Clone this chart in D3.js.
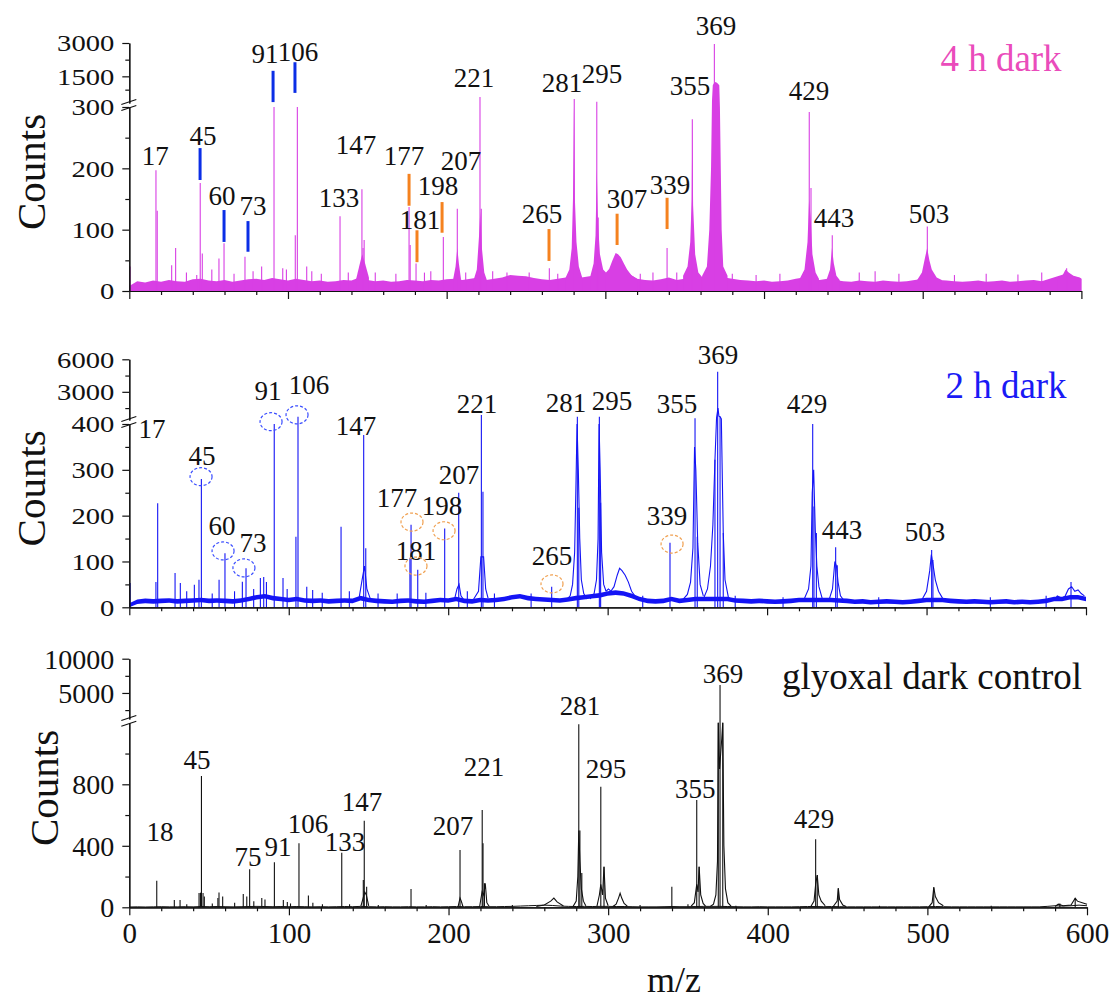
<!DOCTYPE html>
<html lang="en">
<head>
<meta charset="UTF-8">
<script src="https://d3js.org/d3.v7.min.js"></script>
<title>Mass spectra</title>
<style>
  body { margin: 0; background: #fff; }
  text { font-family: "Liberation Serif", "Times New Roman", serif; }
</style>
</head>
<body>
<div id="app"></div>
<script>
const svg_width = 1112;
const svg_height = 1001;

// x axis (m/z)
const mz_major = [0, 100, 200, 300, 400, 500, 600];
const mz_minor = d3.range(20, 600, 20).filter(v => v % 100 !== 0);

// baseline noise levels, one value every 5 m/z from 0 to 600
const base_step = 5;
const base1 = [
  8, 16, 14, 17, 15, 18, 16, 15, 19, 20,
  17, 16, 18, 15, 17, 19, 20, 18, 21, 19,
  17, 20, 18, 16, 17, 15, 16, 18, 17, 22,
  18, 16, 17, 15, 16, 18, 17, 16, 18, 17,
  19, 20, 18, 20, 22, 18, 20, 22, 26, 25,
  24, 21, 19, 18, 20, 22, 24, 22, 24, 26,
  28, 30, 32, 28, 20, 18, 17, 19, 22, 18,
  20, 22, 24, 22, 24, 22, 20, 18, 17, 16,
  17, 15, 16, 17, 20, 22, 20, 18, 20, 18,
  16, 15, 17, 16, 15, 17, 16, 15, 16, 18,
  20, 20, 18, 17, 16, 15, 16, 17, 15, 16,
  17, 15, 16, 17, 18, 16, 20, 24, 28, 24,
  20]
const base2 = [
  4, 12, 14, 13, 14, 15, 13, 14, 15, 16,
  14, 15, 14, 13, 15, 18, 22, 24, 20, 18,
  16, 18, 15, 14, 15, 13, 14, 15, 14, 20,
  16, 14, 13, 12, 14, 15, 13, 12, 14, 16,
  15, 18, 14, 13, 16, 15, 16, 18, 22, 24,
  20, 18, 17, 16, 15, 17, 20, 22, 24, 26,
  30, 32, 30, 25, 18, 14, 13, 14, 18, 14,
  16, 18, 18, 18, 18, 18, 15, 14, 13, 14,
  13, 12, 13, 14, 16, 16, 16, 16, 16, 15,
  14, 12, 13, 11, 12, 13, 12, 11, 12, 14,
  16, 16, 16, 14, 13, 12, 13, 12, 11, 12,
  13, 11, 12, 11, 12, 14, 18, 18, 22, 22,
  18]
const base3 = [
  2, 3, 2, 3, 4, 3, 3, 4, 3, 5,
  4, 5, 4, 3, 4, 5, 6, 5, 4, 5,
  4, 5, 4, 3, 4, 3, 4, 5, 4, 6,
  4, 3, 4, 3, 3, 4, 3, 3, 4, 3,
  4, 5, 4, 4, 5, 4, 4, 5, 6, 8,
  10, 12, 14, 12, 8, 6, 5, 6, 5, 6,
  6, 5, 5, 4, 3, 3, 3, 4, 5, 4,
  4, 5, 6, 6, 6, 5, 4, 3, 3, 4,
  3, 3, 3, 3, 4, 5, 5, 4, 5, 4,
  3, 3, 3, 3, 3, 3, 3, 3, 3, 3,
  4, 5, 4, 3, 3, 3, 3, 3, 3, 3,
  3, 3, 3, 3, 3, 6, 10, 8, 10, 14,
  10]

// narrow peaks [m/z, counts]
const sticks1 = [
  [0.5, 40], [16.8, 197], [17.6, 131], [26.7, 42], [29.2, 70], [36, 30], [42.5, 26],
  [44.7, 176], [46, 61], [52, 35], [56.5, 53], [59.7, 78], [66, 28], [72.9, 56],
  [78, 32], [83.4, 40], [91.2, 300], [96.7, 37], [99, 35], [104.6, 91], [105.9, 300],
  [111.8, 40], [115, 32], [121, 28], [132.8, 122], [138, 30], [146.6, 166], [147.3, 70],
  [148, 83], [155, 30], [168, 28], [176.3, 137], [177, 75], [180.7, 45], [186, 30],
  [190, 32], [197.9, 88], [206.7, 134], [212, 30], [221, 570], [221.8, 134], [229, 32],
  [238, 30], [252, 30], [264.7, 37], [270, 28], [280.4, 480], [294.6, 360], [295.5, 120],
  [322, 28], [330, 30], [338.9, 70], [345, 30], [354.8, 280], [368.7, 2955], [380, 28],
  [395, 26], [410, 28], [428.5, 292], [429.6, 168], [443, 91], [460, 30], [470, 32],
  [485, 28], [502.9, 105], [520, 26], [540, 28], [560, 27], [575, 30], [590.7, 37]]
const sticks2 = [
  [0.5, 53], [16.7, 55], [17.8, 227], [28.7, 75], [32, 53], [36, 35], [40.8, 49],
  [43.7, 60], [45.2, 280], [52, 30], [56.3, 60], [60, 118], [66, 35], [70.9, 56],
  [73.2, 85], [78, 40], [82.2, 64], [84.3, 66], [86, 55], [90.9, 400], [96.4, 64],
  [99, 40], [104.5, 154], [105.8, 700], [111.3, 45], [115, 38], [121, 32], [132.8, 176],
  [138, 35], [147, 376], [148.3, 129], [156, 30], [168, 30], [176, 108], [176.7, 180],
  [180.9, 82], [186, 32], [197.8, 172], [206.6, 250], [212, 35], [220.8, 860],
  [221.8, 252], [229, 30], [252, 30], [264.9, 45], [281, 700], [281.9, 217],
  [294.8, 700], [295.6, 228], [322, 25], [339.1, 141], [354.8, 556], [356.2, 154],
  [367.3, 322], [369, 4844], [370.5, 700], [372.5, 162], [380, 25], [410, 22],
  [428.6, 400], [429.4, 220], [430.9, 162], [443, 131], [444, 92], [470, 22],
  [503.2, 125], [504, 103], [540, 22], [575, 25], [590.6, 55]]
const sticks3 = [
  [17.2, 173], [28.2, 47], [31.8, 47], [36, 20], [43.7, 93], [44.6, 95], [45.2, 854],
  [46.2, 93], [47, 70], [52, 25], [55.5, 60], [56.2, 97], [58.5, 70], [66, 30],
  [71.4, 87], [73.6, 70], [75.4, 247], [78, 40], [83, 60], [85, 50], [90.9, 293],
  [96.5, 47], [99, 35], [101, 25], [106.3, 416], [112.2, 76], [115, 30], [121, 20],
  [133.1, 355], [138, 20], [146.6, 178], [147.2, 563], [148.7, 134], [156, 15],
  [176.5, 119], [186, 15], [207.2, 373], [221.1, 633], [221.6, 416], [222.5, 156],
  [240, 15], [281.6, 1190], [282.3, 500], [283.5, 223], [295.4, 784], [297.4, 264],
  [320, 15], [339.9, 134], [350, 20], [355.5, 698], [357, 264], [369, 1200],
  [370.1, 6164], [371.8, 1200], [380, 10], [430, 442], [431, 210], [444.2, 124],
  [470, 10], [504, 130], [540, 10], [583, 25], [592.6, 59]]

// broad peak profiles [m/z, counts]
const humps1 = [
  [[143, 20], [145.3, 45], [146.8, 60], [148.6, 45], [151, 22]],
  [[204, 18], [205.6, 40], [206.7, 70], [207.7, 45], [209, 20]],
  [[217, 18], [219, 35], [220.4, 90], [221.2, 130], [222.2, 70], [223.7, 30], [225.3, 18]],
  [[275, 22], [277.3, 35], [278.8, 70], [279.6, 150], [280.2, 300], [280.8, 150],
   [281.8, 80], [283.3, 40], [285.4, 22]],
  [[290.6, 25], [292.6, 45], [293.8, 90], [294.6, 200], [295.4, 110], [296.6, 60],
   [298.6, 35], [300.4, 30]],
  [[300.4, 30], [302.4, 36], [304.5, 50], [306.5, 62], [308, 60], [309.7, 55],
   [311.7, 45], [313.7, 35], [316.7, 25], [320, 20]],
  [[349, 25], [351.8, 40], [353.5, 80], [354.4, 150], [354.8, 280], [355.3, 140],
   [356.6, 60], [358.6, 30], [360.3, 25]],
  [[361, 25], [364, 40], [365.5, 100], [366.6, 200], [367.2, 400], [367.7, 1100],
   [368.5, 1200], [369.5, 1250], [370.5, 1200], [371.8, 1100], [372.2, 300],
   [373.3, 100], [374.3, 40], [377, 25]],
  [[422.5, 20], [425.5, 35], [427.4, 80], [428.4, 150], [429.4, 120], [430.5, 60],
   [432.5, 30], [434.6, 20]],
  [[439.6, 20], [441.6, 35], [442.8, 70], [444, 45], [445.6, 25], [447.7, 18]],
  [[496.5, 18], [499.5, 30], [501.5, 55], [502.8, 70], [504.2, 50], [505.7, 35],
   [508.8, 22], [512, 18]],
  [[585, 18], [588, 25], [590, 35], [592, 30], [595, 25], [599, 22], [600, 20]]]
const humps2 = [
  [[144, 18], [146, 60], [147.5, 90], [149, 40], [151, 20]],
  [[204, 18], [205.5, 40], [206.8, 50], [208, 25], [210, 15]],
  [[216, 18], [219, 35], [220.5, 110], [222.2, 110], [223.5, 40], [225, 20]],
  [[274, 16], [276.5, 25], [278, 50], [279.3, 120], [280.2, 280], [280.8, 400],
   [281.6, 300], [282.5, 150], [283.5, 60], [285, 30], [287, 18]],
  [[289, 18], [291.5, 30], [293, 60], [294, 150], [294.6, 400], [295.3, 300],
   [296.2, 120], [297.5, 50], [299, 35]],
  [[299, 35], [300.5, 40], [302, 35], [304, 45], [306, 70], [307.5, 85], [309, 80],
   [311, 70], [313, 55], [315, 35], [318, 20], [320, 15]],
  [[347, 16], [350, 28], [352, 55], [353.5, 130], [354.5, 350], [355.3, 300],
   [356.5, 140], [358, 50], [360, 25]],
  [[360, 18], [362.6, 40], [364.5, 90], [366, 180], [367.3, 322], [368.3, 600],
   [369.2, 1500], [369.8, 750], [370.5, 700], [371.3, 500], [372.5, 162], [373.6, 60],
   [375.7, 22], [378, 15]],
  [[423, 16], [426, 40], [427.5, 90], [428.3, 250], [429.2, 300], [430.2, 170],
   [431.2, 90], [432.5, 45], [434.5, 20]],
  [[439, 18], [441, 40], [442.5, 100], [443.5, 90], [444.5, 55], [446, 25], [448, 16]],
  [[497, 16], [500, 35], [502, 80], [503, 115], [504.2, 90], [505.5, 60], [507.5, 35],
   [510, 20]],
  [[580, 15], [582, 25], [585, 20], [587, 25], [589, 40], [591, 45], [593, 35],
   [595, 38], [597, 30], [599, 25]]]
const humps3 = [
  [[145, 5], [146.5, 60], [147.5, 100], [148.5, 80], [150, 10]],
  [[206, 5], [207.2, 60], [208, 40], [209, 5]],
  [[219.5, 5], [221, 100], [222, 80], [223, 156], [224, 30], [225.5, 5]],
  [[255, 5], [260, 15], [264, 40], [266, 60], [268, 35], [272, 8]],
  [[278, 5], [280, 40], [281, 200], [281.6, 500], [282.3, 300], [283.2, 120],
   [284.5, 40], [286, 10]],
  [[293, 8], [294.5, 80], [295.4, 150], [296.5, 80], [297.4, 264], [298.3, 60], [300, 10]],
  [[303, 5], [305, 20], [306.5, 60], [307.5, 91], [308.5, 60], [310, 25], [312, 8]],
  [[352, 8], [354, 30], [355.5, 150], [356.3, 100], [357, 264], [358, 80], [359.5, 25],
   [361, 8]],
  [[364, 5], [366, 20], [367.5, 80], [368.5, 300], [369, 1200], [369.8, 900],
   [370.5, 1000], [371.2, 1100], [371.8, 1200], [372.5, 400], [373.5, 120], [375, 30],
   [377, 8]],
  [[427, 5], [429, 40], [430, 150], [431, 210], [432, 80], [433.5, 40], [436, 10]],
  [[441, 5], [443.5, 40], [444.2, 124], [445, 50], [447, 15], [449, 5]],
  [[501, 5], [503, 30], [504, 130], [505, 70], [507, 30], [510, 10]],
  [[580, 5], [582, 20], [585, 10], [590, 15], [592.6, 59], [594, 40], [597, 30],
   [600, 20]]]

// peak labels [text, m/z, counts on the lower scale]
const labels1 = [
  ['17', 16.4, 205], ['45', 46.4, 238], ['60', 58.4, 140], ['73', 77.9, 124],
  ['91', 85.5, 372], ['106', 106.3, 375], ['133', 132.1, 137], ['147', 142.9, 223],
  ['177', 173.1, 205], ['181', 183.2, 101], ['198', 194.5, 157], ['207', 209, 198],
  ['221', 217.2, 333], ['265', 260.1, 111], ['281', 272.7, 324], ['295', 297.9, 339],
  ['307', 313.6, 135], ['339', 340.7, 158], ['355', 353.3, 320], ['369', 369.7, 417],
  ['429', 428.3, 312], ['443', 444.1, 104], ['503', 503.9, 111]]
const labels2 = [
  ['17', 14.2, 370], ['45', 45.6, 311], ['60', 58.1, 158], ['73', 77.6, 121],
  ['91', 87, 453], ['106', 112.7, 466], ['147', 142.2, 377], ['177', 167.9, 219],
  ['181', 179.8, 103], ['198', 196.1, 202], ['207', 206.8, 270], ['221', 218.1, 425],
  ['265', 265.1, 92], ['281', 273.9, 427], ['295', 302.7, 431], ['339', 337.2, 180],
  ['355', 343.5, 423], ['369', 369.2, 532], ['429', 425, 423], ['443', 447, 149],
  ['503', 499, 145]]
const labels3 = [
  ['18', 19.2, 431], ['45', 42.4, 900], ['75', 74.4, 269], ['91', 93.2, 334],
  ['106', 112, 483], ['133', 135.2, 366], ['147', 145.8, 626], ['207', 202.8, 470],
  ['221', 222.2, 854], ['281', 282.4, 1251], ['295', 298.7, 841], ['355', 354.5, 711],
  ['369', 372, 1459], ['429', 429, 516]]

// marker bars in the 4 h panel [m/z, counts bottom, counts top]
const bars_blue = [[44.6, 181, 233], [59.7, 80, 132], [74.8, 64, 114], [90.6, 308, 359],
  [104.4, 323, 373]]
const bars_orange = [[176.3, 139, 191], [181.3, 47, 99], [197.1, 95, 145], [264.5, 49, 101],
  [307.4, 75, 126], [338.9, 101, 152]]
// dashed circles in the 2 h panel [m/z, counts]
const rings_blue = [[45, 285], [58.8, 123], [71.9, 86], [88.9, 405], [105.2, 420]]
const rings_orange = [[177.3, 186], [179.8, 90], [197.4, 167], [265.1, 51], [340.4, 138]]

// y axis ticks
const low_ticks1 = [0, 100, 200, 300], low_minor1 = [50, 150, 250]
const up_ticks1 = [1500, 3000], up_minor1 = [900, 2250]
const low_ticks2 = [0, 100, 200, 300, 400], low_minor2 = [50, 150, 250, 350]
const up_ticks2 = [3000, 6000], up_minor2 = [1500, 4500]
const low_ticks3 = [0, 400, 800], low_minor3 = [200, 600, 1000]
const up_ticks3 = [5000, 10000], up_minor3 = [2500, 7500]

const magenta = '#d83fe4', blue = '#1414f5', orange = '#f5821f'

var svg = d3.select('#app')
  .append('svg')
  .attr('width', svg_width)
  .attr('height', svg_height)

const panels = [
  { base: base1, sticks: sticks1, humps: humps1, labels: labels1, color: magenta, fill: true,
    xr: [129.3, 1081.4], low: [0, 300], lowPx: [291, 107], up: [300, 3000], upPx: [103, 43],
    lt: low_ticks1, lm: low_minor1, ut: up_ticks1, um: up_minor1, stretch: true,
    title: '4 h dark', titleColor: '#ea4cbb', titleX: 1001, titleY: 71, countsX: 31 },
  { base: base2, sticks: sticks2, humps: humps2, labels: labels2, color: blue, fill: false,
    xr: [129.3, 1086], low: [0, 400], lowPx: [607.3, 424], up: [400, 6000], upPx: [420, 359.3],
    lt: low_ticks2, lm: low_minor2, ut: up_ticks2, um: up_minor2, stretch: true,
    title: '2 h dark', titleColor: '#1a1af5', titleX: 1006, titleY: 398, countsX: 31 },
  { base: base3, sticks: sticks3, humps: humps3, labels: labels3, color: '#111', fill: false,
    xr: [129.3, 1087], low: [0, 1200], lowPx: [907.3, 722.8], up: [1200, 10000], upPx: [719, 658.7],
    lt: low_ticks3, lm: low_minor3, ut: up_ticks3, um: up_minor3, stretch: false,
    title: 'glyoxal dark control', titleColor: '#111', titleX: 932, titleY: 689, countsX: 44 }
]

function drawPanel(p, idx) {
  const g = svg.append('g')
  const x = d3.scaleLinear().domain([0, 600]).range(p.xr)
  const low = d3.scaleLinear().domain(p.low).range(p.lowPx)
  const up = d3.scaleLinear().domain(p.up).range(p.upPx).clamp(true)
  const y = v => v <= p.low[1] ? low(Math.max(0, v)) : up(v)
  p.x = x; p.yl = low

  const basePts = p.base.map((v, i) => [i * base_step, v])
  const plot = g.append('g')

  if (p.fill) {
    const area = d3.area().x(d => x(d[0])).y0(low(0)).y1(d => y(d[1]))
    plot.append('path').datum(basePts).attr('d', area).attr('fill', p.color)
    plot.selectAll('path.hump').data(p.humps).enter().append('path')
      .attr('class', 'hump').attr('d', area).attr('fill', p.color)
  } else {
    const line = d3.line().x(d => x(d[0])).y(d => y(d[1]))
    if (idx === 1) {
      const band = d3.area().x(d => x(d[0])).y0(d => y(d[1] - 5)).y1(d => y(d[1] + 5))
      plot.append('path').datum(basePts).attr('d', band).attr('fill', p.color)
    }
    plot.append('path').datum(basePts).attr('d', line)
      .attr('fill', 'none').attr('stroke', p.color).attr('stroke-width', 1)
    plot.selectAll('path.hump').data(p.humps).enter().append('path')
      .attr('class', 'hump').attr('d', line)
      .attr('fill', 'none').attr('stroke', p.color).attr('stroke-width', 1.1)
  }
  plot.selectAll('line.stick').data(p.sticks).enter().append('line')
    .attr('class', 'stick')
    .attr('x1', d => x(d[0])).attr('x2', d => x(d[0]))
    .attr('y1', low(0)).attr('y2', d => y(d[1]))
    .attr('stroke', p.color).attr('stroke-width', 1.1)

  // x axis
  const xa = g.append('g').attr('transform', 'translate(0,' + low(0) + ')')
  xa.call(d3.axisBottom(x).tickValues(mz_minor).tickSize(4).tickSizeOuter(0).tickFormat(''))
  const xm = g.append('g').attr('transform', 'translate(0,' + low(0) + ')')
  xm.call(d3.axisBottom(x).tickValues(mz_major).tickSize(8).tickSizeOuter(0).tickPadding(7)
    .tickFormat(idx === 2 ? d3.format('d') : ''))
  xm.selectAll('text').attr('font-size', 29).attr('fill', '#111')
    .style('font-family', '"Liberation Serif", serif')

  // broken y axis
  const yAxes = [[low, p.lt, p.lm], [up, p.ut, p.um]]
  yAxes.forEach(function (a) {
    g.append('g').attr('transform', 'translate(' + p.xr[0] + ',0)')
      .call(d3.axisLeft(a[0]).tickValues(a[2]).tickSize(4).tickSizeOuter(0).tickFormat(''))
    const ya = g.append('g').attr('transform', 'translate(' + p.xr[0] + ',0)')
      .call(d3.axisLeft(a[0]).tickValues(a[1]).tickSize(7).tickSizeOuter(0).tickPadding(8)
        .tickFormat(d3.format('d')))
    const t = ya.selectAll('text').attr('fill', '#111')
      .style('font-family', '"Liberation Serif", serif')
    if (p.stretch) {
      t.attr('font-size', 23).attr('dy', '0.34em')
        .attr('textLength', d => String(d).length * 14.3)
        .attr('lengthAdjust', 'spacingAndGlyphs')
    } else {
      t.attr('font-size', 28).attr('dy', '0.34em')
    }
  })
  g.selectAll('.domain, .tick line').attr('stroke', '#111').attr('stroke-width', 1.2)

  // break marks
  const bx = p.xr[0]
  ;[p.lowPx[1] + 1, p.upPx[0] - 1].forEach(function (by) {
    g.append('line').attr('x1', bx - 8).attr('x2', bx + 7)
      .attr('y1', by + 2.5).attr('y2', by - 2.5)
      .attr('stroke', '#111').attr('stroke-width', 1.2)
  })

  // peak labels
  g.selectAll('text.peak').data(p.labels).enter().append('text')
    .attr('class', 'peak')
    .attr('x', d => x(d[1])).attr('y', d => low(d[2]))
    .attr('text-anchor', 'middle').attr('font-size', 27).attr('fill', '#111')
    .text(d => d[0])

  // titles
  g.append('text').attr('x', p.titleX).attr('y', p.titleY)
    .attr('text-anchor', 'middle').attr('font-size', 37).attr('fill', p.titleColor)
    .text(p.title)
  const cy = (p.lowPx[0] + p.upPx[1]) / 2 + 5
  g.append('text')
    .attr('transform', 'translate(' + p.countsX + ',' + cy + ') rotate(-90)')
    .attr('text-anchor', 'middle').attr('dy', '0.34em').attr('font-size', 41)
    .attr('fill', '#111').text('Counts')
}

panels.forEach(drawPanel)

// marker bars on the 4 h panel
const p1 = panels[0]
function drawBars(data, color) {
  svg.append('g').selectAll('line').data(data).enter().append('line')
    .attr('x1', d => p1.x(d[0])).attr('x2', d => p1.x(d[0]))
    .attr('y1', d => p1.yl(d[1])).attr('y2', d => p1.yl(d[2]))
    .attr('stroke', color).attr('stroke-width', 3)
}
drawBars(bars_blue, '#0b2ee6')
drawBars(bars_orange, orange)

// dashed rings on the 2 h panel
const p2 = panels[1]
function drawRings(data, color) {
  svg.append('g').selectAll('ellipse').data(data).enter().append('ellipse')
    .attr('cx', d => p2.x(d[0])).attr('cy', d => p2.yl(d[1]))
    .attr('rx', 11).attr('ry', 9)
    .attr('fill', 'none').attr('stroke', color).attr('stroke-width', 1.2)
    .attr('stroke-dasharray', '3,2')
}
drawRings(rings_blue, '#3a4dff')
drawRings(rings_orange, '#f0a050')

svg.append('text').attr('x', 674).attr('y', 992)
  .attr('text-anchor', 'middle').attr('font-size', 36).attr('fill', '#111')
  .text('m/z')
</script>
</body>
</html>
